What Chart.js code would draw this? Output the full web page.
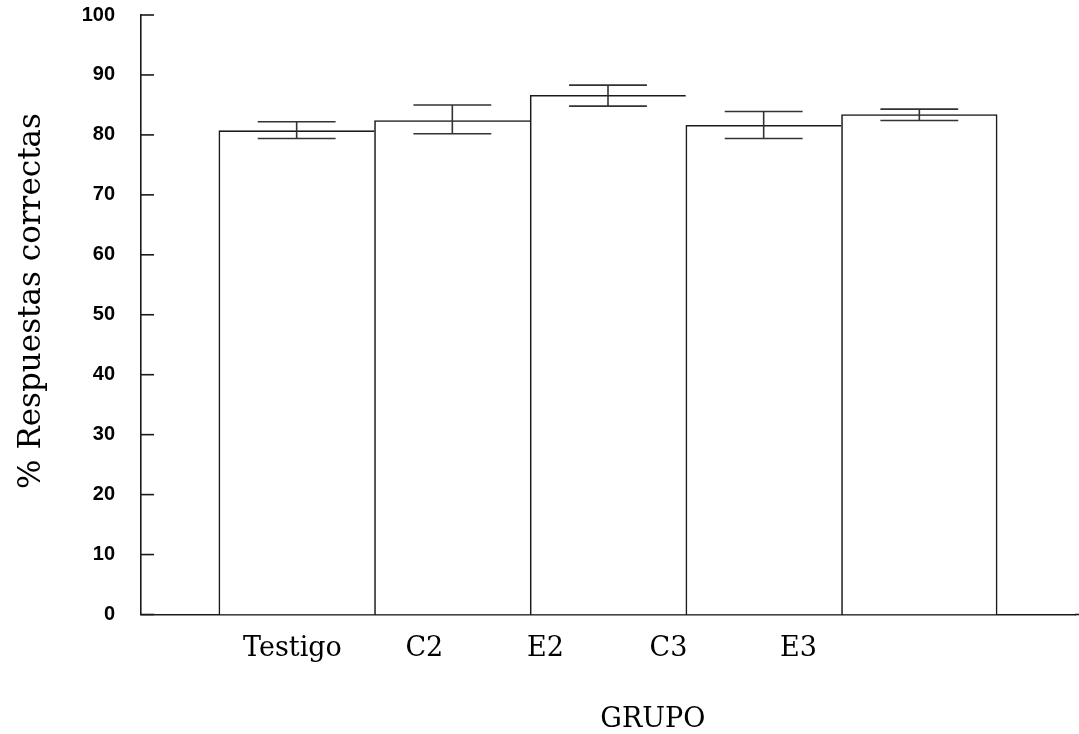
<!DOCTYPE html>
<html>
<head>
<meta charset="utf-8">
<title>% Respuestas correctas por grupo</title>
<script src="https://cdn.jsdelivr.net/npm/chart.js@4.4.1/dist/chart.umd.min.js"></script>
<style>
  html, body { margin: 0; padding: 0; background: #fff; }
  #wrap { width: 1079px; height: 734px; position: relative; }
</style>
</head>
<body>
<div id="wrap"><canvas id="c"></canvas></div>
<script>
// Groups and their mean percentage of correct answers
const categories = ['Testigo', 'C2', 'E2', 'C3', 'E3'];
const means      = [80.7, 82.4, 86.6, 81.6, 83.4];
// Upper and lower ends of each error bar
const errUpper   = [82.2, 85.0, 88.3, 83.9, 84.3];
const errLower   = [79.4, 80.2, 84.8, 79.4, 82.4];
// Y axis ticks
const yTicks     = [0, 10, 20, 30, 40, 50, 60, 70, 80, 90, 100];

// Where each group name sits along the category axis (in category units)
const labelPositions = [0.973, 1.82, 2.598, 3.388, 4.223];

const LINE = '#1a1a1a';
const serif = "'DejaVu Serif', 'Liberation Serif', serif";

// One empty slot on each side so the bars sit between the axis ends
const slots = [''].concat(categories, ['']);
const barValues = [null].concat(means, [null]);
const lastBar = categories.length;

const decorations = {
  id: 'decorations',
  afterDatasetsDraw(chart) {
    const { ctx, chartArea, scales } = chart;
    const x = scales.x, y = scales.y;
    const meta = chart.getDatasetMeta(0);
    ctx.save();

    // error bars
    ctx.strokeStyle = '#333';
    ctx.lineWidth = 1.6;
    categories.forEach((c, i) => {
      const bar = meta.data[i + 1];
      const cx = bar.x;
      const half = bar.width / 4;
      const yHi = y.getPixelForValue(errUpper[i]);
      const yLo = y.getPixelForValue(errLower[i]);
      ctx.beginPath();
      ctx.moveTo(cx, yHi); ctx.lineTo(cx, yLo);
      ctx.moveTo(cx - half, yHi); ctx.lineTo(cx + half, yHi);
      ctx.moveTo(cx - half, yLo); ctx.lineTo(cx + half, yLo);
      ctx.stroke();
    });

    // inward tick marks on the y axis
    ctx.strokeStyle = LINE;
    ctx.lineWidth = 1.6;
    yTicks.forEach(v => {
      const py = y.getPixelForValue(v);
      ctx.beginPath();
      ctx.moveTo(chartArea.left, py);
      ctx.lineTo(chartArea.left + 13, py);
      ctx.stroke();
    });

    // x axis line runs on to the right edge
    ctx.beginPath();
    ctx.moveTo(chartArea.right, chartArea.bottom);
    ctx.lineTo(chart.width, chartArea.bottom);
    ctx.stroke();

    // group names
    const x0 = x.getPixelForValue(0), x1 = x.getPixelForValue(1);
    const step = x1 - x0;
    ctx.fillStyle = '#000';
    ctx.font = "27px " + serif;
    ctx.textAlign = 'center';
    ctx.textBaseline = 'alphabetic';
    categories.forEach((c, i) => {
      ctx.fillText(c, x0 + labelPositions[i] * step, chartArea.bottom + 41);
    });

    // axis titles
    ctx.font = "27px " + serif;
    ctx.fillText('GRUPO', chartArea.left + 0.548 * (chartArea.right - chartArea.left), chartArea.bottom + 112);

    ctx.translate(40, chartArea.top + 0.477 * (chartArea.bottom - chartArea.top));
    ctx.rotate(-Math.PI / 2);
    ctx.font = "31px " + serif;
    ctx.fillText('% Respuestas correctas', 0, 0);
    ctx.restore();
  }
};

new Chart(document.getElementById('c'), {
  type: 'bar',
  data: {
    labels: slots,
    datasets: [{
      data: barValues,
      backgroundColor: '#fff',
      borderColor: LINE,
      borderWidth: (ctx) => ({ top: 1.6, left: 1.6, bottom: 0, right: ctx.dataIndex === lastBar ? 1.6 : 0 }),
      borderSkipped: false,
      barPercentage: 1,
      categoryPercentage: 1
    }]
  },
  options: {
    responsive: true,
    maintainAspectRatio: false,
    devicePixelRatio: 1,
    animation: false,
    layout: { padding: { left: 0, top: 15, right: 4, bottom: 0 } },
    plugins: {
      legend: { display: false },
      tooltip: { enabled: false },
      title: { display: false }
    },
    scales: {
      x: {
        type: 'category',
        offset: false,
        grid: { display: false, drawTicks: false },
        border: { display: true, color: LINE, width: 1.6 },
        ticks: { display: false },
        afterFit: (s) => { s.height = 119.5; s.paddingLeft = 0; s.paddingRight = 0; }
      },
      y: {
        min: 0,
        max: 100,
        afterBuildTicks: (s) => { s.ticks = yTicks.map(v => ({ value: v })); },
        grid: { display: false, drawTicks: false },
        border: { display: true, color: LINE, width: 1.6 },
        ticks: {
          padding: 26,
          color: '#000',
          font: { family: "'Liberation Sans', Arial, sans-serif", size: 20, weight: 'bold' }
        },
        afterFit: (s) => { s.width = 141; s.paddingTop = 0; s.paddingBottom = 0; }
      }
    }
  },
  plugins: [decorations]
});
</script>
</body>
</html>
